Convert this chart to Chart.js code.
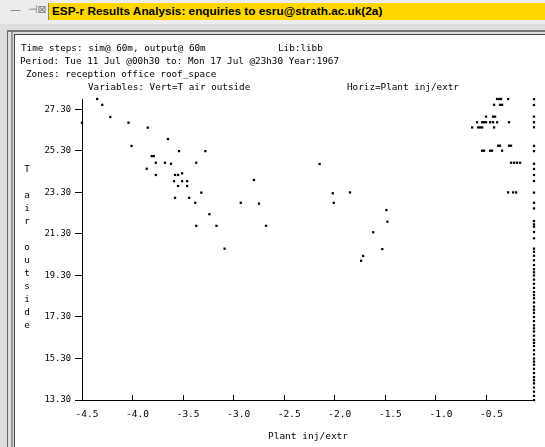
<!DOCTYPE html>
<html lang="en">
<head>
    <meta charset="UTF-8">
    <title>ESP-r Results Analysis</title>
    <style>
        body {
            margin: 0;
            width: 545px;
            height: 447px;
            overflow: hidden;
            position: relative;
            background-color: #dedede;
            font-family: "DejaVu Sans Mono", monospace;
        }
        .titlebar {
            position: absolute;
            left: 0; top: 0;
            width: 545px; height: 24px;
            background-color: #ececec;
        }
        .icons {
            position: absolute;
            left: 10px; top: 3px;
            font-family: "DejaVu Sans", sans-serif;
            font-size: 11px;
            color: #777;
        }
        .yellow {
            position: absolute;
            left: 48px; top: 3px;
            width: 497px; height: 17px;
            background-color: #ffd600;
            border-left: 1px solid #888;
            font-family: "Liberation Sans", Arial, sans-serif;
            font-weight: bold;
            font-size: 11.8px;
            line-height: 17px;
            padding-left: 3px;
            box-sizing: border-box;
        }
        .frame1 { position: absolute; left: 7px; top: 30px; width: 1px; height: 417px; background: #666; }
        .frame2 { position: absolute; left: 11px; top: 30px; width: 2px; height: 417px; background: #999; }
        .frameTop { position: absolute; left: 7px; top: 30px; width: 538px; height: 2px; background: #777; }
        .panel {
            position: absolute;
            left: 14px; top: 34px;
            width: 531px; height: 413px;
            background: #fff;
            border-left: 1px solid #444;
            border-top: 1px solid #444;
            box-sizing: border-box;
        }
        .txt {
            position: absolute;
            font-size: 9.3px;
            line-height: 12px;
            white-space: pre;
            color: #000;
        }
        #ytitle {
            position: absolute;
            left: 23px; top: 162px;
            font-size: 9.3px;
            line-height: 13px;
            text-align: center;
            width: 8px;
        }
        #chartBox {
            position: absolute;
            left: 0; top: 0;
            width: 545px; height: 447px;
        }
    </style>
    <script src="https://cdn.jsdelivr.net/npm/chart.js"></script>
</head>
<body>
    <div class="titlebar">
        <div class="icons">—&nbsp;&nbsp;⊣⊠</div>
        <div class="yellow">ESP-r Results Analysis: enquiries to esru@strath.ac.uk(2a)</div>
    </div>
    <div class="frame1"></div>
    <div class="frame2"></div>
    <div class="frameTop"></div>
    <div class="panel"></div>

    <div id="chartBox"><canvas id="espChart" width="545" height="447"></canvas></div>

    <div class="txt" style="left:21px; top:42px;">Time steps: sim@ 60m, output@ 60m</div>
    <div class="txt" style="left:278px; top:42px;">Lib:libb</div>
    <div class="txt" style="left:20px; top:55px;">Period: Tue 11 Jul @00h30 to: Mon 17 Jul @23h30 Year:1967</div>
    <div class="txt" style="left:26px; top:68px;">Zones: reception office roof_space</div>
    <div class="txt" style="left:88px; top:81px;">Variables: Vert=T air outside</div>
    <div class="txt" style="left:347px; top:81px;">Horiz=Plant inj/extr</div>
    <div id="ytitle">T<br>&nbsp;<br>a<br>i<br>r<br>&nbsp;<br>o<br>u<br>t<br>s<br>i<br>d<br>e</div>

    <script>
        // plant injection/extraction (x) vs outside air temperature (y), hours with plant running
        var plantX = [
            -4.50, -4.35, -4.30, -4.22, -4.04, -3.85, -4.01, -3.65, -3.81, -3.79,
            -3.77, -3.86, -3.77, -3.68, -3.62, -3.54, -3.28, -3.37, -3.58, -3.55,
            -3.51, -3.59, -3.51, -3.46, -3.55, -3.46, -3.32, -3.58, -3.44, -3.38,
            -3.24, -3.37, -3.17, -3.09, -2.93, -2.80, -2.75, -2.68,
            -2.15, -2.02, -1.85, -2.01, -1.49, -1.48, -1.62, -1.53, -1.72, -1.74
        ];
        var airT = [
            26.66, 27.80, 27.52, 26.93, 26.66, 26.42, 25.54, 25.87, 25.05, 25.05,
            24.73, 24.44, 24.14, 24.73, 24.68, 25.29, 25.29, 24.73, 24.14, 24.14,
            24.22, 23.84, 23.84, 23.84, 23.61, 23.61, 23.29, 23.04, 23.04, 22.80,
            22.25, 21.69, 21.69, 20.59, 22.80, 23.90, 22.76, 21.69,
            24.67, 23.26, 23.30, 22.80, 22.45, 21.89, 21.38, 20.57, 20.24, 20.01
        ];

        // small loads cluster near zero
        var lowPlantX = [
            -0.395, -0.375, -0.356, -0.286,
            -0.425, -0.366, -0.346,
            -0.504, -0.435, -0.415,
            -0.593, -0.543, -0.524, -0.504, -0.464, -0.435, -0.395, -0.277,
            -0.642, -0.583, -0.563, -0.543, -0.425,
            -0.385, -0.366, -0.277, -0.257,
            -0.543, -0.524, -0.464, -0.445, -0.346,
            -0.257, -0.227, -0.198, -0.168,
            -0.286, -0.237, -0.207
        ];
        var lowAirT = [
            27.80, 27.80, 27.80, 27.80,
            27.52, 27.52, 27.52,
            26.95, 26.95, 26.95,
            26.68, 26.68, 26.68, 26.68, 26.68, 26.68, 26.68, 26.68,
            26.43, 26.43, 26.43, 26.43, 26.43,
            25.55, 25.55, 25.55, 25.55,
            25.31, 25.31, 25.31, 25.31, 25.31,
            24.73, 24.73, 24.73, 24.73,
            23.30, 23.30, 23.30
        ];

        // hours with no plant (plotted at the right edge)
        var zeroPlantX = -0.03;
        var zeroPlantT = [
            27.79, 27.51, 26.95, 26.68, 26.44, 25.54, 25.29, 24.68, 24.43, 24.14,
            23.85, 23.29, 22.80, 22.53, 21.92, 21.76, 21.65, 21.39, 21.09, 20.59,
            20.44, 20.25, 20.03, 19.80, 19.60, 19.45, 19.30, 19.10, 18.90, 18.70,
            18.50, 18.35, 18.20, 18.00, 17.80, 17.65, 17.50, 17.30, 17.10, 16.90,
            16.75, 16.60, 16.40, 16.20, 16.05, 15.90, 15.70, 15.50, 15.30, 15.15,
            15.00, 14.80, 14.60, 14.40, 14.25, 14.10, 13.90, 13.70, 13.50, 13.30
        ];

        var xTicks = [-4.5, -4.0, -3.5, -3.0, -2.5, -2.0, -1.5, -1.0, -0.5];
        var yTicks = [13.3, 15.3, 17.3, 19.3, 21.3, 23.3, 25.3, 27.3];

        function makePoints(xs, ys) {
            return ys.map(function (y, i) {
                return { x: Array.isArray(xs) ? xs[i] : xs, y: y };
            });
        }

        var allPoints = makePoints(plantX, airT)
            .concat(makePoints(lowPlantX, lowAirT))
            .concat(makePoints(zeroPlantX, zeroPlantT));

        var monoFont = { family: 'DejaVu Sans Mono', size: 9.5 };

        new Chart(document.getElementById('espChart'), {
            type: 'scatter',
            data: {
                datasets: [{
                    label: 'T air outside',
                    data: allPoints,
                    pointStyle: 'rect',
                    pointRadius: 1.6,
                    pointBorderWidth: 0,
                    backgroundColor: '#000',
                    borderColor: '#000',
                    clip: false
                }]
            },
            options: {
                responsive: false,
                animation: false,
                events: [],
                layout: { padding: { top: 99, left: 38, right: 11, bottom: 3 } },
                plugins: {
                    legend: { display: false },
                    tooltip: { enabled: false }
                },
                scales: {
                    x: {
                        type: 'linear',
                        min: -4.5,
                        max: -0.03,
                        afterFit: function (scale) { scale.height = 44; },
                        afterBuildTicks: function (scale) {
                            scale.ticks = xTicks.map(function (v) { return { value: v }; });
                        },
                        grid: { drawOnChartArea: false, tickLength: -5, color: '#000', tickWidth: 1 },
                        border: { color: '#000', width: 1 },
                        ticks: {
                            color: '#000',
                            font: monoFont,
                            padding: 14,
                            labelOffset: 5,
                            maxRotation: 0,
                            callback: function (v) { return v.toFixed(1); }
                        },
                        title: {
                            display: true,
                            text: 'Plant inj/extr',
                            color: '#000',
                            font: monoFont,
                            padding: { top: 0, bottom: 2 }
                        }
                    },
                    y: {
                        type: 'linear',
                        min: 13.3,
                        max: 27.8,
                        afterFit: function (scale) { scale.width = 44; },
                        afterBuildTicks: function (scale) {
                            scale.ticks = yTicks.map(function (v) { return { value: v }; });
                        },
                        grid: { drawOnChartArea: false, tickLength: 7, color: '#000', tickWidth: 1 },
                        border: { color: '#000', width: 1 },
                        ticks: {
                            color: '#000',
                            font: { family: 'DejaVu Sans Mono', size: 8.8 },
                            padding: 4,
                            callback: function (v) { return v.toFixed(2); }
                        }
                    }
                }
            }
        });
    </script>
</body>
</html>
